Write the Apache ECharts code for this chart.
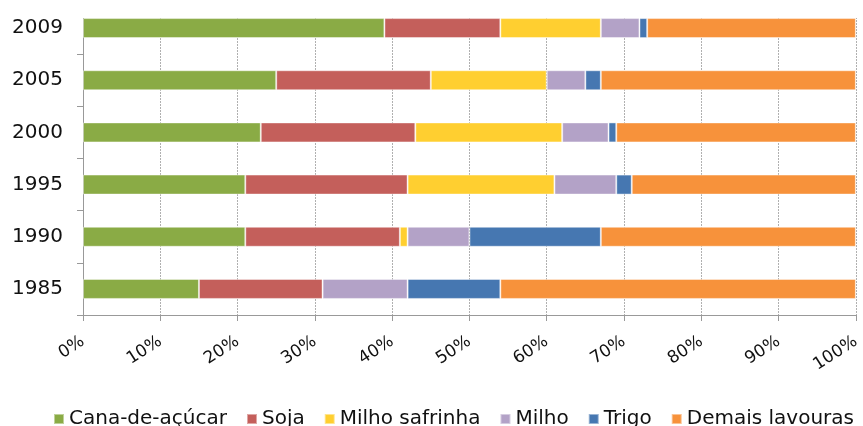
<!DOCTYPE html>
<html>
<head>
<meta charset="utf-8">
<script src="https://cdn.jsdelivr.net/npm/echarts@6/dist/echarts.min.js"></script>
<style>
  html, body { margin: 0; padding: 0; background: #fff; }
  #chart { width: 863px; height: 426px; }
</style>
</head>
<body>
<div id="chart"></div>
<script>
// Years, bottom to top
const years = ['1985', '1990', '1995', '2000', '2005', '2009'];

// Share of each crop (%) per year
const canaDeAcucar   = [15, 21, 21, 23, 25, 39];
const soja           = [16, 20, 21, 20, 20, 15];
const milhoSafrinha  = [0, 1, 19, 19, 15, 13];
const milho          = [11, 8, 8, 6, 5, 5];
const trigo          = [12, 17, 2, 1, 2, 1];
const demaisLavouras = [46, 33, 29, 31, 33, 27];

const seriesNames  = ['Cana-de-açúcar', 'Soja', 'Milho safrinha', 'Milho', 'Trigo', 'Demais lavouras'];
const seriesValues = [canaDeAcucar, soja, milhoSafrinha, milho, trigo, demaisLavouras];
const seriesColors = ['#8aab45', '#c45f5b', '#ffcf30', '#b3a2c7', '#4677b1', '#f7923b'];

const chart = echarts.init(document.getElementById('chart'));

chart.setOption({
  animation: false,
  backgroundColor: '#ffffff',
  textStyle: { fontFamily: 'DejaVu Sans' },
  grid: { left: 83, right: 5, top: 2, bottom: 111, containLabel: false },
  // the frame is trimmed just above the top bar
  graphic: [{
    type: 'rect',
    z: 100,
    shape: { x: 66, y: 0, width: 797, height: 18 },
    style: { fill: '#ffffff' }
  }],
  legend: {
    left: 48,
    top: 404,
    itemWidth: 10,
    itemHeight: 10,
    itemGap: 19,
    icon: 'rect',
    textStyle: { fontSize: 20, color: '#111', fontFamily: 'DejaVu Sans' },
    data: seriesNames
  },
  xAxis: {
    type: 'value',
    min: 0,
    max: 100,
    interval: 10,
    axisLine: { show: true, lineStyle: { color: '#999' } },
    axisTick: { show: true, length: 6, lineStyle: { color: '#999' } },
    axisLabel: {
      formatter: '{value}%',
      rotate: 33,
      margin: 25,
      fontSize: 17,
      color: '#111',
      fontFamily: 'DejaVu Sans'
    },
    splitLine: { show: true, lineStyle: { color: '#b0b0b0', type: [2, 1], width: 1 } }
  },
  yAxis: {
    type: 'category',
    data: years,
    axisLine: { show: true, lineStyle: { color: '#999' } },
    axisTick: { show: true, length: 6, lineStyle: { color: '#999' } },
    axisLabel: { fontSize: 20, color: '#111', margin: 20, fontFamily: 'DejaVu Sans' },
    splitLine: { show: false }
  },
  series: seriesNames.map((name, i) => ({
    name: name,
    type: 'bar',
    stack: 'total',
    barWidth: 20,
    data: seriesValues[i],
    itemStyle: {
      color: seriesColors[i],
      borderColor: 'rgba(255,255,255,0.45)',
      borderWidth: 1
    }
  }))
});
</script>
</body>
</html>
